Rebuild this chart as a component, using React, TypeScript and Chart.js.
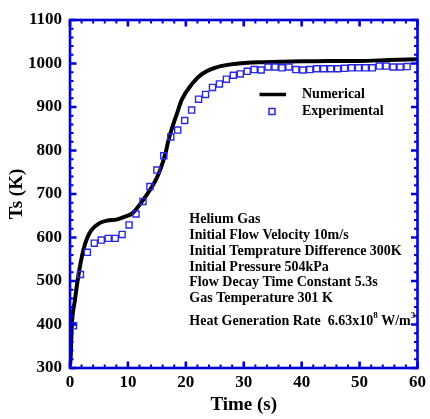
import React, { useEffect, useRef } from 'react';
import { Chart, registerables } from 'chart.js';
Chart.register(...registerables);

// Numerical solution (black line)
const numTime = [0, 0.12, 0.3, 0.85, 1.42, 2.3, 3.0, 3.7, 5.1, 6.5, 8.0, 9.5, 10.8, 12.5, 14.8, 15.7, 16.5, 17.0, 17.9, 18.5, 19.3, 21.0, 22.7, 25.0, 27.8, 30.7, 33.2, 40, 44.6, 50, 55, 60];
const numTs = [305, 326, 395, 456, 510, 571, 600, 617, 633, 639, 641, 648, 656, 684, 732, 760, 794, 824, 863, 886, 917, 952, 975, 990, 998, 1002, 1003, 1005, 1006, 1006, 1008, 1010];

// Experimental data (blue squares)
const expTime = [0.6, 1.8, 3.0, 4.2, 5.4, 6.6, 7.8, 9.0, 10.2, 11.4, 12.6, 13.8, 15.0, 16.2, 17.4, 18.6, 19.8, 21.0, 22.2, 23.4, 24.6, 25.8, 27.0, 28.2, 29.4, 30.6, 31.8, 33.0, 34.2, 35.4, 36.6, 37.8, 39.0, 40.2, 41.4, 42.6, 43.8, 45.0, 46.2, 47.4, 48.6, 49.8, 51.0, 52.2, 53.4, 54.6, 55.8, 57.0, 58.2];
const expTs = [397, 515, 566, 587, 594, 598, 598, 607, 629, 654, 683, 717, 755, 788, 831, 847, 869, 893, 918, 929, 945, 953, 964, 973, 976, 982, 986, 985, 992, 992, 990, 992, 986, 985, 986, 988, 988, 988, 988, 989, 990, 990, 990, 990, 994, 994, 992, 992, 993];

const seriesLabels = ['Numerical', 'Experimental'];
const annotationLines = [
  'Helium Gas',
  'Initial Flow Velocity 10m/s',
  'Initial Temprature Difference 300K',
  'Initial Pressure 504kPa',
  'Flow Decay Time Constant 5.3s',
  'Gas Temperature 301 K',
];
const heatText = ['Heat Generation Rate  6.63x10', '8', ' W/m', '3'];

const xTitle = 'Time (s)';
const yTitle = 'Ts (K)';

const AXIS_BLUE = 'rgb(0,0,215)';
const MARK_BLUE = 'rgb(40,40,225)';
const FONT = '"Liberation Serif", "Times New Roman", serif';

const framePlugin = {
  id: 'frame',
  afterDraw(chart: any) {
    const { ctx, chartArea } = chart;
    const { left, right, top, bottom } = chartArea;
    const xs = chart.scales.x;
    const ys = chart.scales.y;
    ctx.save();
    ctx.strokeStyle = AXIS_BLUE;
    // ticks
    for (let v = xs.min; v <= xs.max + 1e-6; v += 2) {
      const px = xs.getPixelForValue(v);
      const major = Math.abs(v % 10) < 1e-6;
      const len = major ? 6.5 : 3.5;
      ctx.lineWidth = major ? 2.6 : 2;
      ctx.beginPath();
      ctx.moveTo(px, bottom);
      ctx.lineTo(px, bottom - len);
      ctx.moveTo(px, top);
      ctx.lineTo(px, top + len);
      ctx.stroke();
    }
    for (let v = ys.min; v <= ys.max + 1e-6; v += 20) {
      const py = ys.getPixelForValue(v);
      const major = Math.abs(v % 100) < 1e-6;
      const len = major ? 6.5 : 3.5;
      ctx.lineWidth = major ? 2.6 : 2;
      ctx.beginPath();
      ctx.moveTo(left, py);
      ctx.lineTo(left + len, py);
      ctx.moveTo(right, py);
      ctx.lineTo(right - len, py);
      ctx.stroke();
    }
    ctx.lineWidth = 2.6;
    ctx.strokeRect(left, top, right - left, bottom - top);

    // legend
    const ly1 = top + 74.5;
    const ly2 = top + 91.5;
    ctx.strokeStyle = '#000';
    ctx.lineWidth = 3.5;
    ctx.beginPath();
    ctx.moveTo(left + 189.5, ly1);
    ctx.lineTo(left + 216, ly1);
    ctx.stroke();
    ctx.strokeStyle = MARK_BLUE;
    ctx.lineWidth = 1.5;
    ctx.strokeRect(left + 199, ly2 - 3, 6, 6);
    ctx.fillStyle = '#000';
    ctx.font = `bold 14px ${FONT}`;
    ctx.textBaseline = 'middle';
    ctx.textAlign = 'left';
    ctx.fillText(seriesLabels[0], left + 232, ly1);
    ctx.fillText(seriesLabels[1], left + 232, ly2);

    // annotation
    const F = `bold 14px ${FONT}`;
    const FS = `bold 9px ${FONT}`;
    ctx.font = F;
    const ax = left + 119.3;
    let ay = top + 199.5;
    annotationLines.forEach((t) => {
      ctx.fillText(t, ax, ay);
      ay += 15.8;
    });
    ay = top + 301;
    let cx = ax;
    ctx.fillText(heatText[0], cx, ay);
    cx += ctx.measureText(heatText[0]).width;
    ctx.font = FS;
    ctx.fillText(heatText[1], cx, ay - 5);
    cx += ctx.measureText(heatText[1]).width;
    ctx.font = F;
    ctx.fillText(heatText[2], cx, ay);
    cx += ctx.measureText(heatText[2]).width;
    ctx.font = FS;
    ctx.fillText(heatText[3], cx, ay - 5);
    ctx.restore();
  },
};

export default function App() {
  const ref = useRef<HTMLCanvasElement>(null);
  useEffect(() => {
    if (!ref.current) return;
    const chart = new Chart(ref.current, {
      type: 'line',
      data: {
        datasets: [
          {
            label: seriesLabels[1],
            data: expTime.map((t, i) => ({ x: t, y: expTs[i] })),
            showLine: false,
            pointStyle: 'rect',
            pointRadius: 4.3,
            pointBorderWidth: 1.4,
            pointBorderColor: MARK_BLUE,
            pointBackgroundColor: 'rgba(255,255,255,0)',
            borderColor: MARK_BLUE,
            order: 0,
          },
          {
            label: seriesLabels[0],
            data: numTime.map((t, i) => ({ x: t, y: numTs[i] })),
            borderColor: '#000',
            borderWidth: 4,
            pointRadius: 0,
            cubicInterpolationMode: 'monotone',
            fill: false,
            order: 1,
          },
        ],
      },
      options: {
        responsive: false,
        animation: false,
        layout: { padding: { left: 0, right: 8, top: 20, bottom: 0 } },
        plugins: { legend: { display: false }, tooltip: { enabled: false } },
        scales: {
          x: {
            type: 'linear',
            min: 0,
            max: 60,
            grid: { display: false, drawTicks: false },
            border: { display: false },
            ticks: {
              stepSize: 10,
              color: '#000',
              padding: 4,
              maxRotation: 0,
              callback: (v: any) => String(v),
              font: { family: FONT, weight: 'bold', size: 17 },
            },
            title: {
              display: true,
              text: xTitle,
              color: '#000',
              padding: { top: 0, bottom: 3 },
              font: { family: FONT, weight: 'bold', size: 19 },
            },
            afterFit: (s: any) => {
              s.height = 51;
            },
          },
          y: {
            type: 'linear',
            min: 300,
            max: 1100,
            grid: { display: false, drawTicks: false },
            border: { display: false },
            ticks: {
              stepSize: 100,
              color: '#000',
              padding: 8,
              callback: (v: any) => String(v),
              font: { family: FONT, weight: 'bold', size: 17 },
            },
            title: {
              display: true,
              text: yTitle,
              color: '#000',
              padding: { top: 6, bottom: 0 },
              font: { family: FONT, weight: 'bold', size: 19 },
            },
            afterFit: (s: any) => {
              s.width = 70;
            },
          },
        },
      },
      plugins: [framePlugin],
    });
    return () => chart.destroy();
  }, []);
  return (
    <div style={{ position: 'fixed', left: 0, top: 0, width: 430, height: 419, background: '#fff' }}>
      <canvas ref={ref} width={430} height={419} />
    </div>
  );
}
